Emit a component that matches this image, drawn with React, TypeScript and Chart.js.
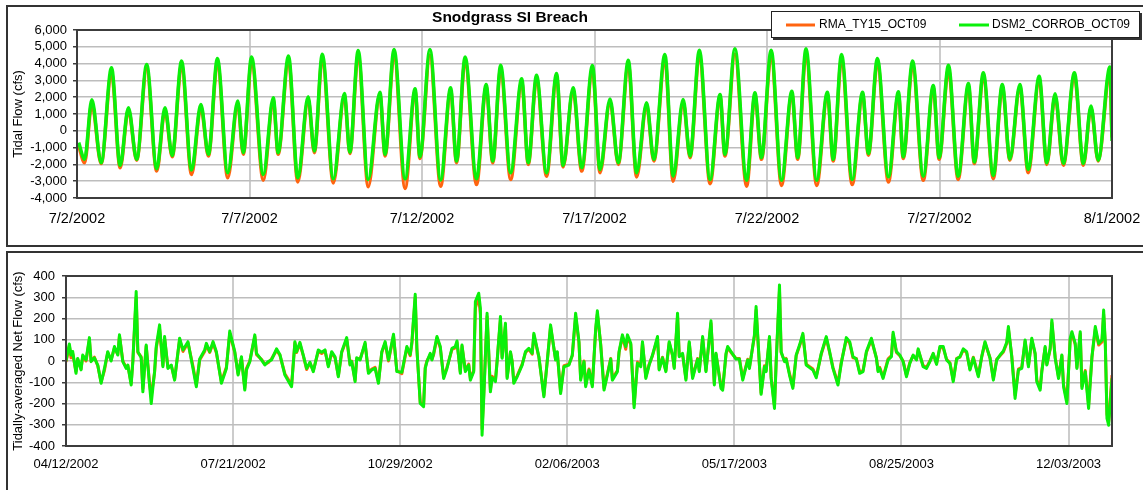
import { useEffect, useRef } from 'react';
import { Chart, registerables } from 'chart.js';

Chart.register(...registerables);

const FONT = "'Liberation Sans', Arial, Helvetica, sans-serif";

const chartTitle = 'Snodgrass SI Breach';
const seriesNames = ['RMA_TY15_OCT09', 'DSM2_CORROB_OCT09'];
const tideAxisTitle = 'Tidal Flow (cfs)';
const netAxisTitle = 'Tidally-averaged Net Flow (cfs)';

// Top chart: days since 7/2/2002
const tideTickLabels = ['7/2/2002', '7/7/2002', '7/12/2002', '7/17/2002', '7/22/2002', '7/27/2002', '8/1/2002'];
const tideDays = [
  0.05, 0.22, 0.43, 0.70, 1.00, 1.25, 1.49, 1.73, 2.02, 2.31,
  2.55, 2.76, 3.03, 3.32, 3.59, 3.81, 4.07, 4.37, 4.66, 4.82,
  5.06, 5.40, 5.69, 5.83, 6.13, 6.40, 6.70, 6.88, 7.11, 7.43,
  7.75, 7.91, 8.15, 8.44, 8.78, 8.93, 9.19, 9.51, 9.80, 9.94,
  10.23, 10.54, 10.83, 11.00, 11.25, 11.58, 11.86, 12.05, 12.28, 12.57,
  12.89, 13.08, 13.32, 13.61, 13.90, 14.09, 14.38, 14.63, 14.94, 15.16,
  15.45, 15.69, 15.98, 16.22, 16.51, 16.72, 17.04, 17.28, 17.57, 17.77,
  18.04, 18.35, 18.64, 18.78, 19.07, 19.41, 19.65, 19.84, 20.12, 20.42,
  20.72, 20.89, 21.13, 21.44, 21.75, 21.92, 22.16, 22.47, 22.77, 22.94,
  23.20, 23.52, 23.81, 23.95, 24.22, 24.53, 24.82, 24.99, 25.26, 25.54,
  25.84, 26.01, 26.27, 26.56, 26.82, 27.04, 27.33, 27.57, 27.89, 28.11,
  28.35, 28.59, 28.91, 29.17, 29.39, 29.60, 29.94, 30.00,
];
const rmaTide = [
  -900, -1900, 1600, -1950, 3450, -2200, 1250, -1750, 3700, -2400,
  1200, -1550, 3900, -2600, 1400, -1500, 4050, -2800, 1600, -1400,
  4150, -2940, 1800, -1400, 4200, -3050, 1850, -1300, 4300, -3100,
  2050, -1350, 4500, -3330, 2150, -1500, 4550, -3430, 2350, -1650,
  4500, -3300, 2400, -1900, 4150, -3200, 2600, -1900, 3650, -2900,
  2900, -2000, 3100, -2700, 3200, -2150, 2400, -2400, 3650, -2500,
  1750, -2000, 3950, -2750, 1500, -1800, 4250, -3000, 1700, -1600,
  4500, -3150, 2000, -1500, 4550, -3300, 2100, -1700, 4500, -3250,
  2200, -1700, 4550, -3250, 2150, -1800, 4250, -3200, 2150, -1450,
  4050, -3050, 2150, -1650, 3900, -2950, 2550, -1700, 3650, -2900,
  2650, -1950, 3250, -2850, 2600, -1750, 2600, -2500, 3050, -2000,
  2050, -2050, 3250, -2050, 1350, -1800, 3500, -400,
];
const dsm2Tide = [
  -700, -1700, 1850, -1900, 3750, -2060, 1370, -1700, 3950, -2260,
  1370, -1470, 4150, -2340, 1570, -1400, 4300, -2500, 1770, -1300,
  4400, -2600, 1960, -1300, 4450, -2800, 2020, -1200, 4550, -2860,
  2220, -1270, 4780, -2900, 2300, -1400, 4840, -2860, 2500, -1550,
  4840, -2930, 2560, -1800, 4400, -2860, 2760, -1800, 3900, -2500,
  3100, -1900, 3300, -2500, 3410, -2060, 2560, -2200, 3890, -2300,
  1900, -1900, 4200, -2500, 1670, -1700, 4540, -2700, 1870, -1500,
  4800, -2900, 2160, -1400, 4880, -2940, 2260, -1600, 4800, -2940,
  2360, -1600, 4880, -2940, 2300, -1700, 4540, -2900, 2300, -1350,
  4300, -2740, 2320, -1550, 4150, -2700, 2700, -1600, 3900, -2700,
  2820, -1860, 3450, -2660, 2760, -1670, 2760, -2300, 3250, -1900,
  2200, -1950, 3450, -1950, 1470, -1750, 3800, -600,
];

// Bottom chart: days since 04/12/2002
const netTickLabels = ['04/12/2002', '07/21/2002', '10/29/2002', '02/06/2003', '05/17/2003', '08/25/2003', '12/03/2003'];
const netDays = [
  0, 2, 3, 4, 6, 7, 9, 10, 12, 14,
  15, 17, 19, 21, 23, 25, 27, 29, 31, 32,
  34, 36, 37, 39, 40, 42, 43, 45, 46, 48,
  50, 51, 53, 54, 56, 58, 59, 61, 63, 65,
  68, 70, 73, 76, 78, 80, 83, 84, 86, 88,
  90, 93, 96, 98, 101, 103, 105, 107, 108, 110,
  113, 114, 117, 119, 121, 123, 126, 128, 131, 135,
  137, 138, 140, 142, 144, 146, 148, 151, 153, 155,
  157, 159, 161, 163, 165, 168, 170, 171, 173, 174,
  176, 179, 181, 183, 185, 187, 189, 191, 193, 196,
  198, 201, 204, 206, 207, 209, 210, 212, 214, 215,
  216, 218, 219, 220, 222, 224, 226, 228, 231, 233,
  234, 236, 237, 239, 241, 242, 244, 245, 247, 248,
  249, 250, 252, 254, 255, 257, 258, 260, 261, 263,
  264, 266, 267, 268, 270, 273, 275, 277, 279, 280,
  283, 286, 288, 290, 293, 294, 296, 298, 301, 303,
  305, 307, 308, 310, 311, 313, 315, 317, 318, 320,
  322, 324, 326, 327, 330, 331, 333, 335, 336, 338,
  340, 342, 344, 345, 347, 349, 351, 354, 355, 357,
  359, 361, 363, 364, 366, 367, 369, 371, 373, 375,
  378, 379, 381, 383, 386, 388, 389, 392, 393, 395,
  396, 398, 401, 403, 405, 408, 409, 412, 413, 416,
  418, 419, 421, 422, 424, 425, 427, 428, 430, 431,
  433, 435, 437, 439, 441, 443, 447, 449, 452, 455,
  457, 459, 462, 464, 467, 469, 471, 473, 475, 477,
  479, 482, 485, 486, 487, 489, 492, 494, 495, 497,
  499, 501, 503, 505, 507, 509, 510, 513, 515, 517,
  519, 521, 523, 525, 527, 529, 531, 533, 535, 537,
  539, 541, 543, 546, 548, 550, 553, 555, 557, 559,
  561, 563, 564, 566, 568, 570, 572, 574, 576, 578,
  580, 581, 583, 584, 586, 587, 589, 590, 592, 594,
  596, 597, 599, 601, 602, 604, 605, 607, 608, 610,
  612, 614, 616, 618, 620, 621, 622, 623, 624, 626,
];
const rmaNet = [
  -5, 72, 15, 35, -50, 8, -38, 20, 0, 100,
  0, 18, -22, -98, -45, 40, 5, 62, 32, 118,
  0, -30, -22, -105, 0, 300, 40, 20, -130, 70,
  -105, -165, -55, 60, 150, -20, 105, -30, -22, -85,
  100, 45, 85, -25, -112, 5, 45, 75, 40, 85,
  38, -98, -28, 130, 40, -60, 15, -128, -35, 0,
  115, 30, 8, -15, -8, 10, 50, 28, -60, -112,
  85, 40, 80, 25, -40, -10, -45, 45, 35, 48,
  -22, 38, 15, -70, 40, 102, -15, 0, -90, 12,
  8, 80, -52, -38, -30, -98, 40, 85, 0, 118,
  -45, -60, 62, 25, 82, 300, 55, -195, -205, -30,
  0, 30, 8, 30, 108, 62, -75, -30, 55, 62,
  88, -52, 70, -45, -15, -82, -45, 250, 300, 220,
  -320, -160, 210, -135, -72, -90, 0, 195, 18, 165,
  -75, 40, 0, -98, -70, -15, 40, 55, 32, 122,
  18, -160, 0, 160, 8, 40, -145, -22, -15, 25,
  210, 85, -82, 0, -112, -38, -112, 145, 220, 80,
  -128, -60, 12, -82, -45, 40, 115, 55, 110, 78,
  -205, -5, -20, 85, -75, -15, 25, 108, -38, 18,
  -45, 85, 25, -30, 210, 25, 32, -82, 85, -75,
  12, -45, 108, -45, 178, -105, 32, -120, -128, 30,
  62, 40, 12, 12, -82, 8, -30, 115, 240, -150,
  -22, -45, 108, -75, -210, -5, 330, 40, 0, 12,
  -60, -120, 25, 70, 122, -15, -38, -72, 32, 108,
  40, -30, -105, -5, 102, 85, 15, 12, -52, -45,
  40, 100, 15, -45, -30, -75, 10, 25, 125, 40,
  25, 0, -68, -8, 25, 8, 52, -22, -30, 0,
  32, -12, 62, 62, 8, -8, -90, 12, 18, 52,
  40, -38, 18, -68, 18, 85, 15, -82, 8, 25,
  42, 82, 150, 25, -160, -38, -30, 92, -22, 100,
  32, -90, -128, -45, 62, -15, 55, 180, 18, -75,
  25, -112, -185, 100, 128, 78, -30, 128, -120, -45,
  -205, 18, 150, 75, 90, 220, 75, -250, -285, -66,
];
const dsm2Net = [
  0, 80, 28, 45, -58, 12, -42, 28, 5, 110,
  -3, 15, -19, -105, -35, 44, 0, 68, 28, 123,
  -3, -35, -19, -113, -3, 327, 44, 15, -145, 75,
  -113, -200, -50, 68, 170, -27, 115, -35, -19, -90,
  107, 52, 91, -35, -121, 9, 52, 83, 44, 91,
  44, -105, -35, 141, 44, -66, 20, -137, -42, -3,
  123, 36, 5, -19, -3, 5, 57, 31, -66, -121,
  91, 44, 88, 28, -35, -6, -50, 52, 41, 52,
  -27, 44, 20, -74, 44, 110, -19, -3, -97, 15,
  5, 88, -58, -42, -35, -105, 44, 91, 5, 126,
  -50, -53, 68, 30, 90, 314, 60, -200, -215, -35,
  -3, 36, 5, 36, 115, 68, -82, -35, 60, 68,
  94, -58, 75, -50, -19, -90, -50, 280, 319, 248,
  -349, -176, 225, -145, -79, -97, -3, 209, 13, 178,
  -82, 44, -3, -105, -74, -19, 44, 60, 36, 130,
  20, -168, -3, 170, 5, 44, -153, -27, -19, 28,
  225, 91, -90, -3, -121, -42, -121, 154, 236, 75,
  -137, -66, 9, -90, -50, 44, 123, 68, 123, 83,
  -220, -11, -27, 91, -82, -19, 28, 115, -42, 15,
  -50, 91, 28, -35, 225, 20, 36, -90, 91, -82,
  9, -50, 115, -50, 189, -113, 36, -129, -137, 36,
  68, 44, 9, 9, -90, 5, -35, 123, 256, -157,
  -27, -50, 115, -82, -223, -11, 358, 44, -3, 9,
  -66, -129, 28, 75, 130, -19, -42, -79, 36, 115,
  44, -35, -113, -11, 110, 91, 20, 9, -58, -50,
  44, 107, 13, -50, -35, -82, 5, 20, 135, 44,
  28, -3, -74, -11, 28, 5, 57, -27, -35, -3,
  36, -16, 68, 68, 5, -11, -97, 9, 20, 57,
  44, -42, 15, -74, 20, 91, 13, -90, 5, 28,
  47, 88, 162, 20, -176, -42, -35, 99, -27, 107,
  36, -97, -137, -50, 68, -19, 60, 193, 13, -82,
  28, -121, -200, 107, 138, 83, -35, 138, -129, -50,
  -223, 20, 162, 83, 99, 240, 83, -270, -302, -82,
];

const ORANGE = '#ff6410';
const GREEN = '#0af00a';

const framePlugin = {
  id: 'plotFrame',
  afterDatasetsDraw(chart: any) {
    const { ctx, chartArea: a } = chart;
    ctx.save();
    ctx.strokeStyle = '#3c3c3c';
    ctx.lineWidth = 2;
    ctx.strokeRect(a.left, a.top, a.right - a.left, a.bottom - a.top);
    ctx.restore();
  },
};

const headerPlugin = {
  id: 'header',
  afterDraw(chart: any) {
    const ctx = chart.ctx;
    ctx.save();
    ctx.fillStyle = '#000';
    ctx.font = `bold 15.5px ${FONT}`;
    ctx.textAlign = 'center';
    ctx.textBaseline = 'middle';
    ctx.fillText(chartTitle, 510, 18);

    const bx = 771, by = 11, bw = 369, bh = 27;
    ctx.fillStyle = '#333';
    ctx.fillRect(bx + 2, by + 2, bw, bh);
    ctx.fillStyle = '#fff';
    ctx.fillRect(bx, by, bw, bh);
    ctx.strokeStyle = '#222';
    ctx.lineWidth = 1;
    ctx.strokeRect(bx + 0.5, by + 0.5, bw - 1, bh - 1);

    const ds = chart.data.datasets;
    const entries = [
      { x0: 786, x1: 815, tx: 819, d: ds[0] },
      { x0: 959, x1: 989, tx: 992, d: ds[1] },
    ];
    const ly = by + bh / 2 + 0.5;
    ctx.font = `12px ${FONT}`;
    ctx.textAlign = 'left';
    ctx.textBaseline = 'middle';
    entries.forEach((e) => {
      ctx.strokeStyle = e.d.borderColor;
      ctx.lineWidth = 3;
      ctx.beginPath();
      ctx.moveTo(e.x0, ly);
      ctx.lineTo(e.x1, ly);
      ctx.stroke();
      ctx.fillStyle = '#000';
      ctx.fillText(e.d.label, e.tx, ly);
    });
    ctx.restore();
  },
};

function makeDataset(label: string, xs: number[], ys: number[], color: string, order: number, smooth: boolean, width: number) {
  return {
    label,
    data: xs.map((x, i) => ({ x, y: ys[i] })),
    borderColor: color,
    backgroundColor: color,
    borderWidth: width,
    pointRadius: 0,
    pointHoverRadius: 0,
    borderJoinStyle: 'round' as const,
    fill: false,
    order,
    ...(smooth ? { cubicInterpolationMode: 'monotone' as const } : { tension: 0 }),
  };
}

function TideChart() {
  const ref = useRef<HTMLCanvasElement | null>(null);
  useEffect(() => {
    if (!ref.current) return;
    const chart = new Chart(ref.current, {
      type: 'line',
      data: {
        datasets: [
          makeDataset(seriesNames[0], tideDays, rmaTide, ORANGE, 2, true, 3.5),
          makeDataset(seriesNames[1], tideDays, dsm2Tide, GREEN, 1, true, 3.5),
        ],
      },
      options: {
        animation: false,
        responsive: false,
        maintainAspectRatio: false,
        layout: { padding: { left: 0, top: 30, right: 31, bottom: 0 } },
        plugins: { legend: { display: false }, tooltip: { enabled: false }, title: { display: false } },
        scales: {
          x: {
            type: 'linear',
            min: 0,
            max: 30,
            afterFit: (s: any) => { s.height = 50; s.paddingLeft = 0; s.paddingRight = 0; },
            ticks: {
              stepSize: 5,
              includeBounds: false,
              autoSkip: false,
              maxRotation: 0,
              padding: 12,
              color: '#000',
              font: { family: FONT, size: 14.5 },
              callback: (v: any) => tideTickLabels[Math.round(Number(v) / 5)],
            },
            grid: { color: '#cccccc', lineWidth: 2, drawTicks: false },
            border: { display: false },
          },
          y: {
            type: 'linear',
            min: -4000,
            max: 6000,
            afterFit: (s: any) => { s.width = 77; s.paddingTop = 0; s.paddingBottom = 0; },
            ticks: {
              stepSize: 1000,
              autoSkip: false,
              padding: 6,
              color: '#000',
              font: { family: FONT, size: 13 },
              callback: (v: any) => Number(v).toLocaleString('en-US'),
            },
            grid: { color: '#bdbdbd', lineWidth: 1.5, tickLength: 4, tickColor: '#3c3c3c' },
            border: { display: false },
            title: {
              display: true,
              text: tideAxisTitle,
              color: '#000',
              font: { family: FONT, size: 13 },
              padding: { top: 11, bottom: 0 },
            },
          },
        },
      },
      plugins: [framePlugin, headerPlugin],
    } as any);
    return () => chart.destroy();
  }, []);
  return <canvas ref={ref} width={1143} height={248} style={{ position: 'absolute', left: 0, top: 0, display: 'block' }} />;
}

function NetChart() {
  const ref = useRef<HTMLCanvasElement | null>(null);
  useEffect(() => {
    if (!ref.current) return;
    const chart = new Chart(ref.current, {
      type: 'line',
      data: {
        datasets: [
          makeDataset(seriesNames[0], netDays, rmaNet, ORANGE, 2, false, 3),
          makeDataset(seriesNames[1], netDays, dsm2Net, GREEN, 1, false, 3),
        ],
      },
      options: {
        animation: false,
        responsive: false,
        maintainAspectRatio: false,
        layout: { padding: { left: 0, top: 26, right: 31, bottom: 0 } },
        plugins: { legend: { display: false }, tooltip: { enabled: false }, title: { display: false } },
        scales: {
          x: {
            type: 'linear',
            min: 0,
            max: 626,
            afterFit: (s: any) => { s.height = 44; s.paddingLeft = 0; s.paddingRight = 0; },
            ticks: {
              stepSize: 100,
              includeBounds: false,
              autoSkip: false,
              maxRotation: 0,
              padding: 11,
              color: '#000',
              font: { family: FONT, size: 13 },
              callback: (v: any) => netTickLabels[Math.round(Number(v) / 100)],
            },
            grid: { color: '#cccccc', lineWidth: 2, drawTicks: false },
            border: { display: false },
          },
          y: {
            type: 'linear',
            min: -400,
            max: 400,
            afterFit: (s: any) => { s.width = 66; s.paddingTop = 0; s.paddingBottom = 0; },
            ticks: {
              stepSize: 100,
              autoSkip: false,
              padding: 7,
              color: '#000',
              font: { family: FONT, size: 13 },
            },
            grid: { color: '#bdbdbd', lineWidth: 1.5, tickLength: 4, tickColor: '#3c3c3c' },
            border: { display: false },
            title: {
              display: true,
              text: netAxisTitle,
              color: '#000',
              font: { family: FONT, size: 13 },
              padding: { top: 11, bottom: 0 },
            },
          },
        },
      },
      plugins: [framePlugin],
    } as any);
    return () => chart.destroy();
  }, []);
  return <canvas ref={ref} width={1143} height={240} style={{ position: 'absolute', left: 0, top: 250, display: 'block' }} />;
}

export default function App() {
  return (
    <div style={{ position: 'absolute', left: 0, top: 0, width: 1143, height: 490, overflow: 'hidden', background: '#fff' }}>
      <div style={{ position: 'absolute', left: 6, top: 5, width: 1160, height: 242, boxSizing: 'border-box', border: '2px solid #333' }} />
      <div style={{ position: 'absolute', left: 6, top: 251, width: 1160, height: 300, boxSizing: 'border-box', border: '2px solid #333' }} />
      <TideChart />
      <NetChart />
    </div>
  );
}
